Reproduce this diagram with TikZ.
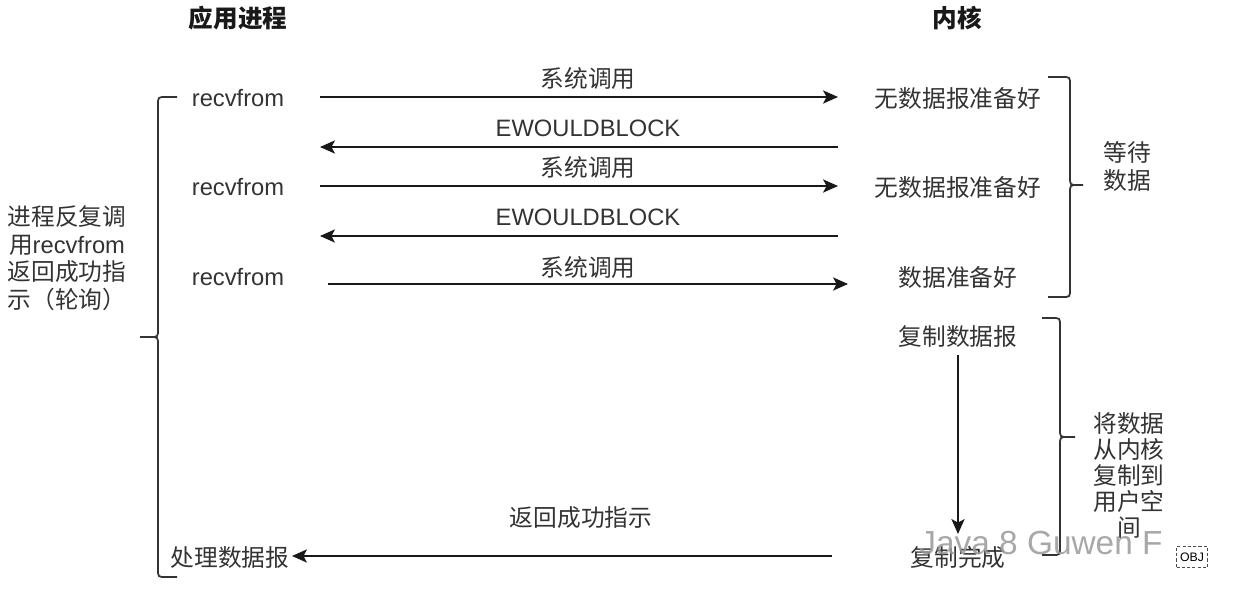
\documentclass[tikz,border=0pt]{standalone}
\usepackage{fontspec}
\setmainfont{Liberation Sans}
\newfontfamily\cjk{Noto Sans CJK SC}
\usetikzlibrary{arrows.meta}
\begin{document}
\begin{tikzpicture}[x=0.02cm,y=-0.02cm,
  txt/.style={font=\fontsize{13.5}{15.7}\selectfont\cjk, text=black!80, inner sep=0pt},
  lat/.style={font=\fontsize{13.5}{15.7}\selectfont, text=black!80, inner sep=0pt},
  ttl/.style={font=\fontsize{14}{16}\selectfont\cjk\bfseries, text=black!90, inner sep=0pt},
  arr/.style={draw=black!90, line width=1.1pt, -{Stealth[length=8.5pt,width=7.5pt,inset=2pt]}},
  brace/.style={draw=black!80, line width=1pt},
]
\useasboundingbox (0,0) rectangle (1240,602);

% column headings
\node[ttl] (tapp) at (238,18) {应用进程};
\node[ttl] (tker) at (957,18) {内核};

% application side
\node[lat] (r1) at (238,98) {recvfrom};
\node[lat] (r2) at (238,187) {recvfrom};
\node[lat] (r3) at (238,277) {recvfrom};
\node[txt] (p) at (230,557) {处理数据报};

% kernel side
\node[txt] (k1) at (958,98) {无数据报准备好};
\node[txt] (k2) at (958,187) {无数据报准备好};
\node[txt] (k3) at (958,277) {数据准备好};
\node[txt] (k4) at (958,337) {复制数据报};
\node[txt] (k5) at (958,557) {复制完成};

% message labels
\node[txt] (l1) at (588,78) {系统调用};
\node[lat] (l2) at (588,128) {EWOULDBLOCK};
\node[txt] (l3) at (588,167) {系统调用};
\node[lat] (l4) at (588,217) {EWOULDBLOCK};
\node[txt] (l5) at (588,267) {系统调用};
\node[txt] (l6) at (581,518) {返回成功指示};

% arrow end points
\coordinate (a1s) at (320,97);  \coordinate (a1e) at (838,97);
\coordinate (a2s) at (838,147); \coordinate (a2e) at (320,147);
\coordinate (a3s) at (320,186); \coordinate (a3e) at (838,186);
\coordinate (a4s) at (838,236); \coordinate (a4e) at (320,236);
\coordinate (a5s) at (328,284); \coordinate (a5e) at (848,284);
\coordinate (a6s) at (958,355); \coordinate (a6e) at (958,534);
\coordinate (a7s) at (832,556); \coordinate (a7e) at (292,556);

\draw[arr] (a1s) -- (a1e);
\draw[arr] (a2s) -- (a2e);
\draw[arr] (a3s) -- (a3e);
\draw[arr] (a4s) -- (a4e);
\draw[arr] (a5s) -- (a5e);
\draw[arr] (a6s) -- (a6e);
\draw[arr] (a7s) -- (a7e);

% left brace
\draw[brace] (177,97) -- (166,97) .. controls (158,97) .. (158,105) -- (158,329)
  .. controls (158,337) .. (150,337) -- (140,337);
\draw[brace] (150,337) .. controls (158,337) .. (158,345) -- (158,569)
  .. controls (158,577) .. (166,577) -- (177,577);
\node[txt, align=center] (note) at (67,258) {进程反复调\\用{\rmfamily recvfrom}\\返回成功指\\示（轮询）};

% right brace: waiting for data
\draw[brace] (1048,77) -- (1062,77) .. controls (1070,77) .. (1070,85) -- (1070,177)
  .. controls (1070,185) .. (1078,185) -- (1083,185);
\draw[brace] (1078,185) .. controls (1070,185) .. (1070,193) -- (1070,289)
  .. controls (1070,297) .. (1062,297) -- (1048,297);
\node[txt, align=center, font=\fontsize{13.5}{15.9}\selectfont\cjk] (w1) at (1127,166) {等待\\数据};

% right brace: copying to user space
\draw[brace] (1042,318) -- (1052,318) .. controls (1060,318) .. (1060,326) -- (1060,429)
  .. controls (1060,437) .. (1068,437) -- (1075,437);
\draw[brace] (1068,437) .. controls (1060,437) .. (1060,445) -- (1060,547)
  .. controls (1060,555) .. (1052,555) -- (1042,555);
\node[txt, align=center, font=\fontsize{13.5}{14.8}\selectfont\cjk] (w2) at (1129,475) {将数据\\从内核\\复制到\\用户空\\间};

% watermark and object marker
\node[font=\fontsize{19}{20}\selectfont, text=black!40, opacity=0.85, inner sep=0pt] (wm) at (1041,543) {Java 8 Guwen F};
\node[draw=black!70, dash pattern=on 1.8pt off 1.2pt, line width=0.5pt, font=\fontsize{7}{8}\selectfont,
  inner sep=0pt, minimum width=0.62cm, minimum height=0.42cm] (obj) at (1192,557) {OBJ};
\end{tikzpicture}
\end{document}
